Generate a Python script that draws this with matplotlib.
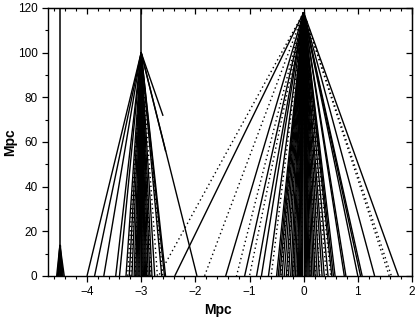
import matplotlib
matplotlib.use("Agg")
import matplotlib.pyplot as plt
from matplotlib.ticker import MultipleLocator

plt.rcParams['font.family'] = ['Liberation Sans', 'DejaVu Sans']

# Fan apexes (x, y) in Mpc
apex_left = (-3.0, 100.0)
apex_right = (0.0, 118.0)
apex_small = (-4.5, 13.9)

# Bottom (y=0) endpoints of lines from each apex
left_solid = [-4.0, -3.86, -3.69, -3.47, -3.40, -3.28, -3.22, -3.17, -3.13, -3.10,
              -3.08, -3.06, -3.04, -3.02, -3.00, -2.98, -2.96, -2.94, -2.92, -2.90,
              -2.87, -2.84, -2.80, -2.75, -2.62, -2.57, -2.55, -1.97]
left_dotted = [-3.25, -3.19, -3.11, -3.04, -2.98, -2.93, -2.88, -2.82, -2.70, -2.60]
# Lines from the left apex that end in mid-air: (x_end, y_end)
left_partial_x = [-2.60, -2.55]
left_partial_y = [72.0, 56.0]

right_solid = [-2.38, -1.44, -1.09, -0.87, -0.78, -0.65, -0.50, -0.47, -0.44, -0.40,
               -0.36, -0.32, -0.28, -0.24, -0.21, -0.18, -0.15, -0.12, -0.10, -0.08,
               -0.06, -0.04, -0.02, 0.00, 0.02, 0.04, 0.06, 0.08, 0.10, 0.12, 0.15,
               0.18, 0.21, 0.25, 0.29, 0.34, 0.38, 0.45, 0.52, 0.55, 0.58, 0.75,
               0.78, 1.00, 1.05, 1.08, 1.31, 1.75]
right_dotted = [-2.68, -1.83, -1.24, -1.00, -0.60, -0.42, -0.30, -0.20, -0.12, -0.04,
                0.04, 0.12, 0.22, 0.30, 0.42, 0.50, 1.58, 1.62]

small_solid = [-4.56, -4.545, -4.53, -4.515, -4.50, -4.485, -4.47, -4.455, -4.44, -4.42]

# Vertical lines: (x, y_from, y_to)
vert_x = [-4.5, -3.0]
vert_y0 = [0.0, 100.0]
vert_y1 = [120.0, 120.0]

xticks = [-4, -3, -2, -1, 0, 1, 2]
yticks = [0, 20, 40, 60, 80, 100, 120]

fig = plt.figure(figsize=(4.15, 3.21), dpi=100)
ax = fig.add_axes([48/415, 45/321, 364/415, 268/321])

lw = 1.0
dot = (0, (1, 2.2))

def fan(apex, ends, ls, lw_):
    for xe in ends:
        ax.plot([apex[0], xe], [apex[1], 0.0], color='black', lw=lw_, ls=ls,
                solid_capstyle='butt')

fan(apex_left, left_solid, '-', lw)
fan(apex_left, left_dotted, dot, lw)
for xe, ye in zip(left_partial_x, left_partial_y):
    ax.plot([apex_left[0], xe], [apex_left[1], ye], color='black', lw=lw)
fan(apex_right, right_solid, '-', lw)
fan(apex_right, right_dotted, dot, lw)
fan(apex_small, small_solid, '-', lw)
for xv, y0, y1 in zip(vert_x, vert_y0, vert_y1):
    ax.plot([xv, xv], [y0, y1], color='black', lw=1.1)

ax.set_xlim(-4.72, 2.0)
ax.set_ylim(0, 120)
ax.set_xticks(xticks)
ax.set_yticks(yticks)
ax.xaxis.set_minor_locator(MultipleLocator(0.2))
ax.yaxis.set_minor_locator(MultipleLocator(10))
ax.tick_params(which='major', direction='out', length=4, width=0.9, labelsize=8.5)
ax.tick_params(which='minor', direction='out', length=2.5, width=0.8)
for s in ax.spines.values():
    s.set_linewidth(1.0)

top = ax.secondary_xaxis('top')
top.set_xticks(xticks)
top.xaxis.set_minor_locator(MultipleLocator(0.2))
top.tick_params(which='major', direction='in', length=4, width=0.9, labeltop=False)
top.tick_params(which='minor', direction='in', length=2.5, width=0.8)
right = ax.secondary_yaxis('right')
right.set_yticks(yticks)
right.yaxis.set_minor_locator(MultipleLocator(10))
right.tick_params(which='major', direction='in', length=4, width=0.9, labelright=False)
right.tick_params(which='minor', direction='in', length=2.5, width=0.8)

ax.set_xlabel('Mpc', fontsize=10, fontweight='bold')
ax.set_ylabel('Mpc', fontsize=10, fontweight='bold')
ax.xaxis.set_label_coords(0.467, -0.10)
ax.yaxis.set_label_coords(-0.085, 0.5)

fig.savefig('out.png', dpi=100)
